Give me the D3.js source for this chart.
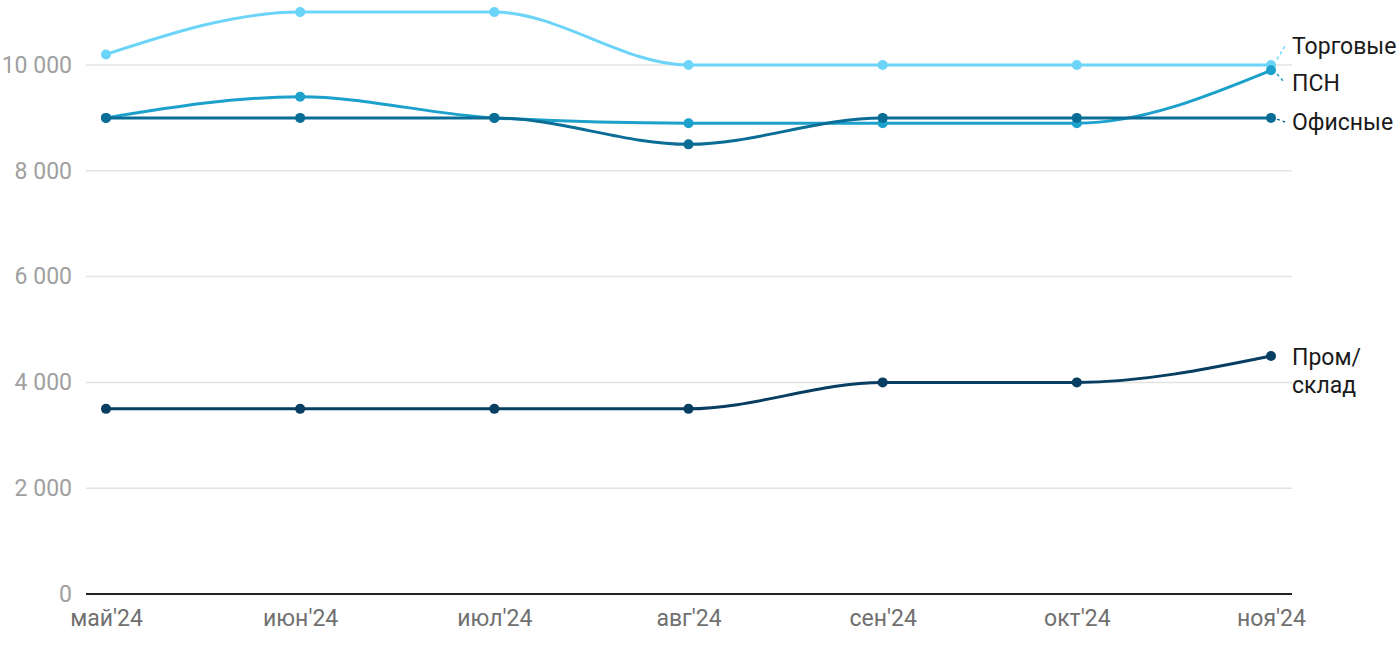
<!DOCTYPE html>
<html><head><meta charset="utf-8">
<script src="https://cdn.jsdelivr.net/npm/d3@7"></script>
<style>
body{margin:0;background:#fff;font-family:Roboto,"Noto Sans",sans-serif;}
</style></head>
<body><svg id="c" width="1400" height="650"></svg>
<script>
const months = ["май'24","июн'24","июл'24","авг'24","сен'24","окт'24","ноя'24"];
const torgovye = [10200,11000,11000,10000,10000,10000,10000];
const psn = [9000,9400,9000,8900,8900,8900,9900];
const ofisnye = [9000,9000,9000,8500,9000,9000,9000];
const prom = [3500,3500,3500,3500,4000,4000,4500];
const yTicks = [0,2000,4000,6000,8000,10000];

const series = [
  {name:["Торговые"], values:torgovye, color:"#6bd4f8", ly:46, dash:true},
  {name:["ПСН"], values:psn, color:"#1ca0cc", ly:83, dash:true},
  {name:["Офисные"], values:ofisnye, color:"#0a6d95", ly:122, dash:true},
  {name:["Пром/","склад"], values:prom, color:"#073e62", ly:357, dash:false}
];

const svg = d3.select("#c");
const x = d3.scalePoint().domain(months).range([106,1271]);
const y = d3.scaleLinear().domain([0,10000]).range([594,65]);

const fmt = v => d3.format(",")(v).replace(/,/g," ");

const grid = svg.append("g");
yTicks.forEach(t=>{
  if(t===0) return;
  grid.append("line").attr("x1",86).attr("x2",1292).attr("y1",y(t)).attr("y2",y(t))
    .attr("stroke","#e3e3e3").attr("stroke-width",1.5);
});
const yAxis = svg.append("g").attr("transform","translate(86,0)")
  .call(d3.axisLeft(y).tickValues(yTicks).tickFormat(fmt).tickSize(0).tickPadding(14));
yAxis.select(".domain").remove();
yAxis.selectAll("text").attr("fill","#a0a0a0").style("font-size","23px").style("font-family","Roboto");

const xAxis = svg.append("g").attr("transform","translate(0,594)")
  .call(d3.axisBottom(x).tickSize(0).tickPadding(16));
xAxis.select(".domain").remove();
xAxis.selectAll("text").attr("fill","#707070").style("font-size","23px").style("font-family","Roboto");
svg.append("line").attr("x1",86).attr("x2",1292).attr("y1",y(0)).attr("y2",y(0))
  .attr("stroke","#222").attr("stroke-width",2);

const line = d3.line().x((d,i)=>x(months[i])).y(d=>y(d)).curve(d3.curveMonotoneX);

series.forEach(s=>{
  svg.append("path").attr("d",line(s.values)).attr("fill","none")
    .attr("stroke",s.color).attr("stroke-width",3);
  svg.selectAll(null).data(s.values).enter().append("circle")
    .attr("cx",(d,i)=>x(months[i])).attr("cy",d=>y(d)).attr("r",5).attr("fill",s.color);
  const lx = 1292;
  const last = s.values[s.values.length-1];
  const px = x(months[months.length-1]), py = y(last);
  if(s.dash){
    const ty = s.ly;
    svg.append("line").attr("x1",px+6).attr("y1",py + (ty-py)*0.3)
      .attr("x2",lx-7).attr("y2",ty)
      .attr("stroke",s.color).attr("stroke-width",1.5).attr("stroke-dasharray","3,3");
  }
  const t = svg.append("text").attr("x",lx).attr("y",s.ly)
    .attr("fill","#1a1a1a").style("font-size","23px").style("font-family","Roboto");
  s.name.forEach((n,i)=>{
    t.append("tspan").attr("x",lx).attr("dy",i===0?"0.35em":"1.22em").text(n);
  });
});
</script></body></html>
